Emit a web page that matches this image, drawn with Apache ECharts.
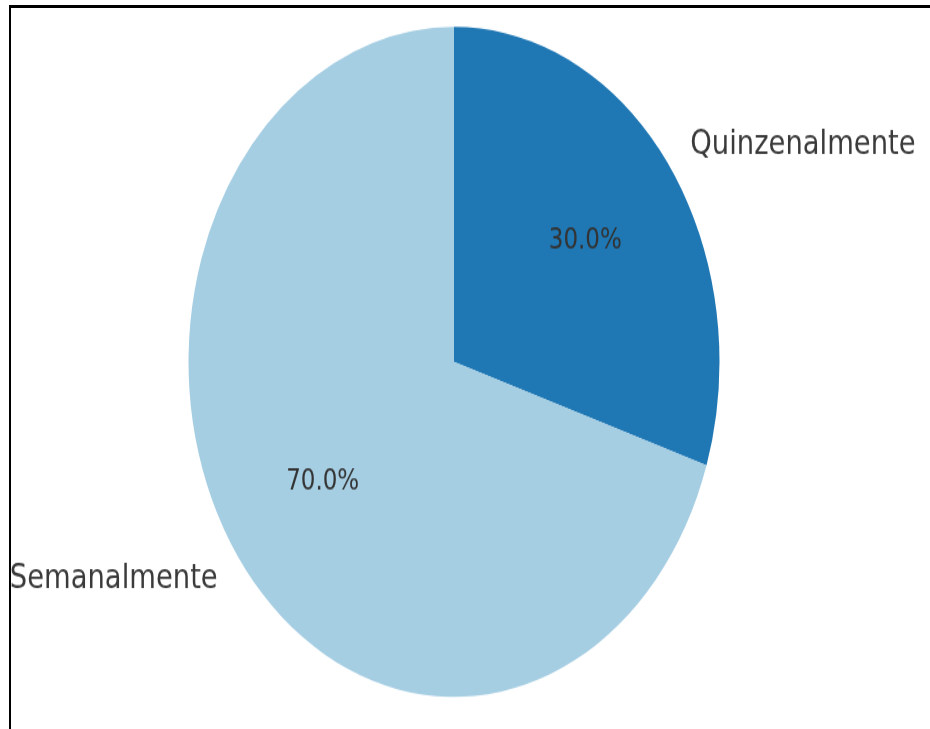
<!DOCTYPE html>
<html>
<head>
<meta charset="utf-8">
<script src="https://cdn.jsdelivr.net/npm/echarts@6/dist/echarts.min.js"></script>
<style>
  html, body { margin: 0; padding: 0; background: #fff; }
  body { width: 930px; height: 729px; position: relative; overflow: hidden; }
  #frame {
    position: absolute; left: 9px; top: 5px; width: 921px; height: 724px;
    border-top: 3px solid #000; border-left: 2px solid #000;
  }
  /* the reference picture is stretched vertically, so is the chart */
  #chart {
    position: absolute; left: 0; top: 0; width: 930px; height: 578px;
    transform: scaleY(1.2618); transform-origin: 0 0;
  }
</style>
</head>
<body>
<div id="frame"></div>
<div id="chart"></div>
<script>
const categories = ["Quinzenalmente", "Semanalmente"];
const values = [30, 70];
const colors = ["#1f77b4", "#a6cee3"];

const pieData = categories.map((name, i) => ({
  name,
  value: values[i],
  itemStyle: { color: colors[i] },
}));

const center = [454, 286.8];
const radius = 265.5;

const chart = echarts.init(document.getElementById("chart"), null, { renderer: "canvas" });
chart.setOption({
  animation: false,
  backgroundColor: "transparent",
  series: [
    {
      type: "pie",
      center,
      radius,
      startAngle: 90,
      clockwise: true,
      avoidLabelOverlap: false,
      silent: true,
      data: pieData,
      label: {
        show: true,
        position: "outside",
        formatter: "{b}",
        color: "#3a3a3a",
        fontFamily: "DejaVu Sans",
        fontSize: 27.4,
        distanceToLabelLine: 0,
      },
      labelLine: { show: false, length: radius * 0.1, length2: 0 },
    },
    {
      // transparent copy that only places the percentage labels at 0.6 r
      type: "pie",
      center,
      radius: radius * 1.2,
      startAngle: 90,
      clockwise: true,
      silent: true,
      data: categories.map((name, i) => ({ name, value: values[i] })),
      itemStyle: { color: "rgba(0,0,0,0)" },
      label: {
        show: true,
        position: "inside",
        formatter: (p) => p.percent.toFixed(1) + "%",
        color: "#333",
        fontFamily: "DejaVu Sans",
        fontSize: 23,
      },
      labelLine: { show: false },
    },
  ],
});
</script>
</body>
</html>
